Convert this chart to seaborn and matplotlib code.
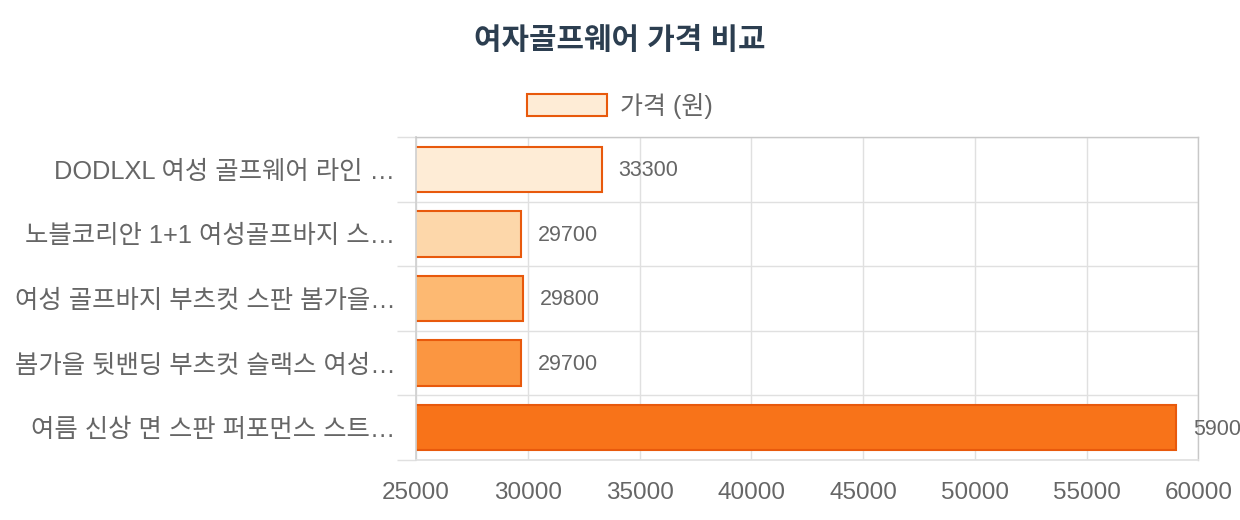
import matplotlib
matplotlib.use("Agg")
import matplotlib.pyplot as plt
import seaborn as sns
import pandas as pd
from matplotlib.patches import Patch

# data
products = [
    "DODLXL 여성 골프웨어 라인 …",
    "노블코리안 1+1 여성골프바지 스…",
    "여성 골프바지 부츠컷 스판 봄가을…",
    "봄가을 뒷밴딩 부츠컷 슬랙스 여성…",
    "여름 신상 면 스판 퍼포먼스 스트…",
]
prices = [33300, 29700, 29800, 29700, 59000]
bar_colors = ["#feecd6", "#fdd7aa", "#fdb972", "#fb9641", "#f87319"]
edge_color = "#e8590c"
x_ticks = [25000, 30000, 35000, 40000, 45000, 50000, 55000, 60000]

sns.set_theme(style="white")
plt.rcParams["font.family"] = ["Liberation Sans", "Noto Sans CJK KR", "DejaVu Sans"]

df = pd.DataFrame({"product": products, "price": prices})

fig = plt.figure(figsize=(12.4, 5.2), dpi=100)
ax = fig.add_axes([0.3355, 0.1154, 0.631, 0.6211])

sns.barplot(data=df, y="product", x="price", hue="product", palette=bar_colors,
            orient="h", width=0.7, legend=False, ax=ax, saturation=1,
            edgecolor=edge_color, linewidth=1.5)

ax.set_xlim(x_ticks[0], x_ticks[-1])
ax.set_ylim(len(products) - 0.5, -0.5)
ax.set_xticks(x_ticks)
ax.set_xticklabels([str(t) for t in x_ticks])
ax.set_xlabel("")
ax.set_ylabel("")

# grid: vertical at ticks, horizontal at category boundaries
ax.set_yticks([i - 0.5 for i in range(len(products) + 1)], minor=True)
ax.grid(True, axis="x", which="major", color="#e0e0e0", linewidth=1)
ax.grid(True, axis="y", which="minor", color="#e0e0e0", linewidth=1)
ax.set_axisbelow(True)
ax.tick_params(axis="x", which="major", length=8, color="#e0e0e0",
               labelsize=17.5, labelcolor="#666666", pad=8)
ax.tick_params(axis="y", which="major", length=0, labelsize=18.3,
               labelcolor="#666666", pad=15)
ax.tick_params(axis="y", which="minor", length=14, color="#e0e0e0", left=True)

for side in ["top", "right"]:
    ax.spines[side].set_color("#c8c8c8")
    ax.spines[side].set_linewidth(1)
ax.spines["left"].set_color("#d0d0d0")
ax.spines["bottom"].set_color("#e0e0e0")

# value labels to the right of each bar (last one runs off the edge, as in the source)
for i, v in enumerate(prices):
    ax.annotate(str(v), xy=(v, i), xytext=(12, -1), textcoords="offset points",
                va="center", ha="left", fontsize=15.5, color="#666666",
                annotation_clip=False)

handle = Patch(facecolor=bar_colors[0], edgecolor=edge_color, linewidth=1.5)
fig.legend(handles=[handle], labels=["가격 (원)"], loc="center",
           bbox_to_anchor=(0.5, 0.797), frameon=False, fontsize=18,
           handlelength=3.2, handleheight=0.95, handletextpad=0.52,
           labelcolor="#666666")

fig.suptitle("여자골프웨어 가격 비교", y=0.948, fontsize=21.5, fontweight="bold",
             color="#2c3e50")

fig.savefig("out.png", dpi=100)
